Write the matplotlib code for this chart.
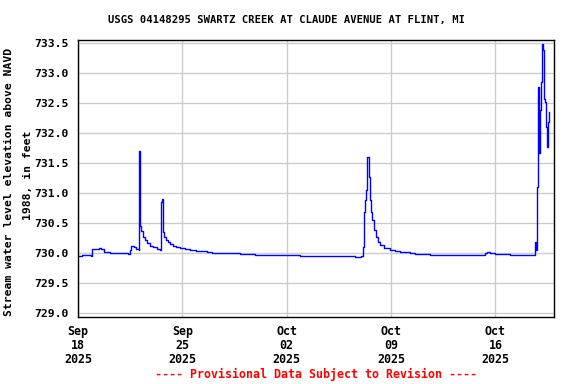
import matplotlib
matplotlib.use("Agg")
import matplotlib.pyplot as plt
import numpy as np
import pandas as pd

# gage readings, days after 2025-09-18 00:00 and stage in feet
day_offset = [0.0, 0.27, 0.81, 0.87, 0.94, 1.14, 1.39, 1.54, 1.74, 2.15, 2.48, 2.82, 3.36,
              3.46, 3.56, 3.76, 3.89, 4.06, 4.09, 4.11, 4.16, 4.19, 4.26, 4.36, 4.50, 4.63,
              4.83, 5.03, 5.30, 5.50, 5.57, 5.60, 5.65, 5.69, 5.77, 5.91, 6.04, 6.17, 6.38,
              6.58, 6.85, 7.18, 7.52, 7.92, 8.19, 8.66, 9.0, 9.53, 10.87, 11.88, 12.75,
              13.56, 14.9, 16.24, 17.58, 18.26, 18.59, 18.86, 18.99, 19.13, 19.15, 19.17,
              19.26, 19.33, 19.38, 19.42, 19.48, 19.53, 19.60, 19.66, 19.73, 19.87, 20.0,
              20.13, 20.27, 20.54, 20.94, 21.28, 21.61, 22.28, 22.62, 23.62, 24.97, 26.31,
              26.98, 27.32, 27.45, 27.65, 27.99, 28.99, 30.6, 30.67, 30.74, 30.79, 30.83,
              30.89, 30.91, 30.94, 31.01, 31.07, 31.14, 31.21, 31.23, 31.28, 31.34, 31.41,
              31.48, 31.54, 31.61]
stage_ft = [729.95, 729.97, 729.97, 729.95, 730.06, 730.06, 730.08, 730.06, 730.01, 730.00,
            729.99, 729.99, 729.98, 730.05, 730.12, 730.10, 730.07, 730.04, 730.30, 731.70,
            731.68, 730.45, 730.36, 730.27, 730.21, 730.16, 730.12, 730.09, 730.06, 730.04,
            730.05, 730.85, 730.90, 730.35, 730.27, 730.22, 730.18, 730.15, 730.12, 730.10,
            730.08, 730.06, 730.04, 730.03, 730.03, 730.01, 730.00, 729.99, 729.98, 729.97,
            729.96, 729.96, 729.95, 729.95, 729.95, 729.94, 729.93, 729.93, 729.95, 729.95,
            730.10, 730.68, 730.88, 731.05, 731.16, 731.59, 731.59, 731.27, 730.88, 730.68,
            730.54, 730.38, 730.26, 730.18, 730.13, 730.08, 730.04, 730.03, 730.02, 730.00,
            729.98, 729.97, 729.97, 729.97, 729.97, 730.00, 730.02, 730.00, 729.98, 729.97,
            729.97, 730.18, 730.05, 731.10, 732.74, 732.77, 732.16, 731.66, 732.38, 732.85,
            733.48, 733.38, 733.02, 732.57, 732.52, 732.10, 731.77, 732.18, 732.35]

start = pd.Timestamp("2025-09-18")
tick_dates = ["2025-09-18", "2025-09-25", "2025-10-02", "2025-10-09", "2025-10-16"]
y_ticks = [729.0, 729.5, 730.0, 730.5, 731.0, 731.5, 732.0, 732.5, 733.0, 733.5]

title = "USGS 04148295 SWARTZ CREEK AT CLAUDE AVENUE AT FLINT, MI"
font = "DejaVu Sans Mono"

times = start + pd.to_timedelta(day_offset, unit="D")

fig = plt.figure(figsize=(5.76, 3.84), dpi=100)
ax = fig.add_axes([0.1354, 0.1745, 0.8256, 0.7221])

ax.plot(times, stage_ft, color="#0000ff", linewidth=1.0, drawstyle="steps-post")

ax.set_xlim(start, start + pd.Timedelta(days=31.9))
ax.set_ylim(728.93, 733.55)

ticks = pd.to_datetime(tick_dates)
ax.set_xticks(ticks)
ax.set_xticklabels([d.strftime("%b\n%d\n%Y") for d in ticks], fontfamily=font,
                   fontweight="bold", fontsize=8.4, linespacing=1.1)
ax.set_yticks(y_ticks)
ax.set_yticklabels([f"{v:.1f}" for v in y_ticks], fontfamily=font,
                   fontweight="bold", fontsize=8.2)
ax.tick_params(axis="x", length=0, pad=6)
ax.tick_params(axis="y", length=0, pad=6.5)

ax.grid(True, color="#cccccc", linewidth=1.0)
ax.set_axisbelow(True)
for s in ax.spines.values():
    s.set_linewidth(1.0)
    s.set_color("black")

fig.text(0.498, 0.948, title, ha="center", va="center", fontfamily=font,
         fontweight="bold", fontsize=7.6)
fig.text(0.015, 0.526, "Stream water level elevation above NAVD", rotation=90,
         ha="center", va="center", fontfamily=font, fontweight="bold", fontsize=8.2)
fig.text(0.048, 0.544, "1988, in feet", rotation=90, ha="center", va="center",
         fontfamily=font, fontweight="bold", fontsize=8.2)
fig.text(0.548, 0.025, "---- Provisional Data Subject to Revision ----", color="red",
         ha="center", va="center", fontfamily=font, fontweight="bold", fontsize=8.4)

fig.savefig("out.png", dpi=100)
